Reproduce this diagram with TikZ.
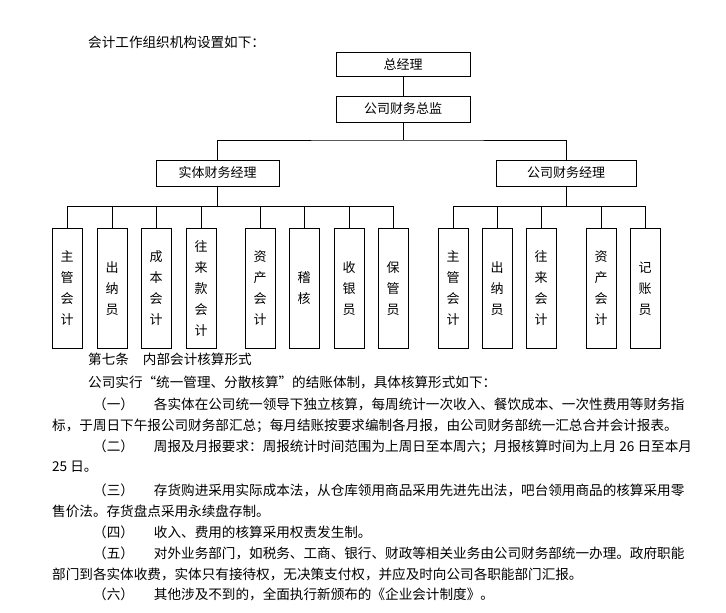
\documentclass[tikz,border=0pt]{standalone}
\usepackage{fontspec}
\setmainfont{Noto Sans CJK SC}
\begin{document}
\begin{tikzpicture}[x=1pt,y=-1pt,
  box/.style={draw,line width=0.8pt,inner sep=0pt},
  vbox/.style={draw,line width=0.8pt,minimum width=30pt,minimum height=120pt,anchor=north,inner sep=0pt,align=center,font=\fontsize{13}{21}\selectfont},
  txt/.style={anchor=west,inner sep=0pt,font=\fontsize{13.6}{14}\selectfont},
  ln/.style={line width=0.8pt}]
\useasboundingbox (0,0) rectangle (726,613);
\node[txt] (t0) at (88,42) {会计工作组织机构设置如下：};
\node[box,minimum width=134pt,minimum height=24pt,font=\fontsize{13}{14}\selectfont] (zjl) at (403,64) {总经理};
\node[box,minimum width=134pt,minimum height=26pt,font=\fontsize{13}{14}\selectfont] (zj) at (403,109) {公司财务总监};
\node[box,minimum width=123pt,minimum height=26pt,font=\fontsize{13}{14}\selectfont] (L) at (217.5,173) {实体财务经理};
\node[box,minimum width=140pt,minimum height=26pt,font=\fontsize{13}{14}\selectfont] (R) at (566,173) {公司财务经理};
\draw[ln] (zjl) -- (zj);
\coordinate (j1) at (403,140);
\draw[ln] (zj) -- (j1);
\draw[ln] (L.north) |- (j1) -| (R.north);
\foreach \n/\x/\t in {a/67/主\\管\\会\\计, b/112/出\\纳\\员, c/156/成\\本\\会\\计, d/201/往\\来\\款\\会\\计, e/260/资\\产\\会\\计, f/304/稽\\核, g/349/收\\银\\员, h/393/保\\管\\员}{
  \node[vbox] (\n) at (\x,228) {\t};
  \draw[ln] (L.south) -- (217.5,206) -| (\n.north);
}
\foreach \n/\x/\t in {p/453/主\\管\\会\\计, q/497/出\\纳\\员, r/541/往\\来\\会\\计, s/601/资\\产\\会\\计, u/645/记\\账\\员}{
  \node[vbox] (\n) at (\x,228) {\t};
  \draw[ln] (R.south) -- (566,206) -| (\n.north);
}
\node[txt] (l1) at (88,359) {第七条\hspace{14pt}内部会计核算形式};
\node[txt] (l2) at (88,382) {公司实行“统一管理、分散核算”的结账体制，具体核算形式如下：};
\node[txt] (l3) at (93,404) {（一）\hspace{20pt}各实体在公司统一领导下独立核算，每周统计一次收入、餐饮成本、一次性费用等财务指};
\node[txt] (l4) at (52,426) {标，于周日下午报公司财务部汇总；每月结账按要求编制各月报，由公司财务部统一汇总合并会计报表。};
\node[txt] (l5) at (93,447) {（二）\hspace{20pt}周报及月报要求：周报统计时间范围为上周日至本周六；月报核算时间为上月 26 日至本月};
\node[txt] (l6) at (52,467) {25 日。};
\node[txt] (l7) at (93,490) {（三）\hspace{20pt}存货购进采用实际成本法，从仓库领用商品采用先进先出法，吧台领用商品的核算采用零};
\node[txt] (l8) at (52,511) {售价法。存货盘点采用永续盘存制。};
\node[txt] (l9) at (93,532) {（四）\hspace{20pt}收入、费用的核算采用权责发生制。};
\node[txt] (l10) at (93,553) {（五）\hspace{20pt}对外业务部门，如税务、工商、银行、财政等相关业务由公司财务部统一办理。政府职能};
\node[txt] (l11) at (52,574) {部门到各实体收费，实体只有接待权，无决策支付权，并应及时向公司各职能部门汇报。};
\node[txt] (l12) at (93,594) {（六）\hspace{20pt}其他涉及不到的，全面执行新颁布的《企业会计制度》。};
\end{tikzpicture}
\end{document}
